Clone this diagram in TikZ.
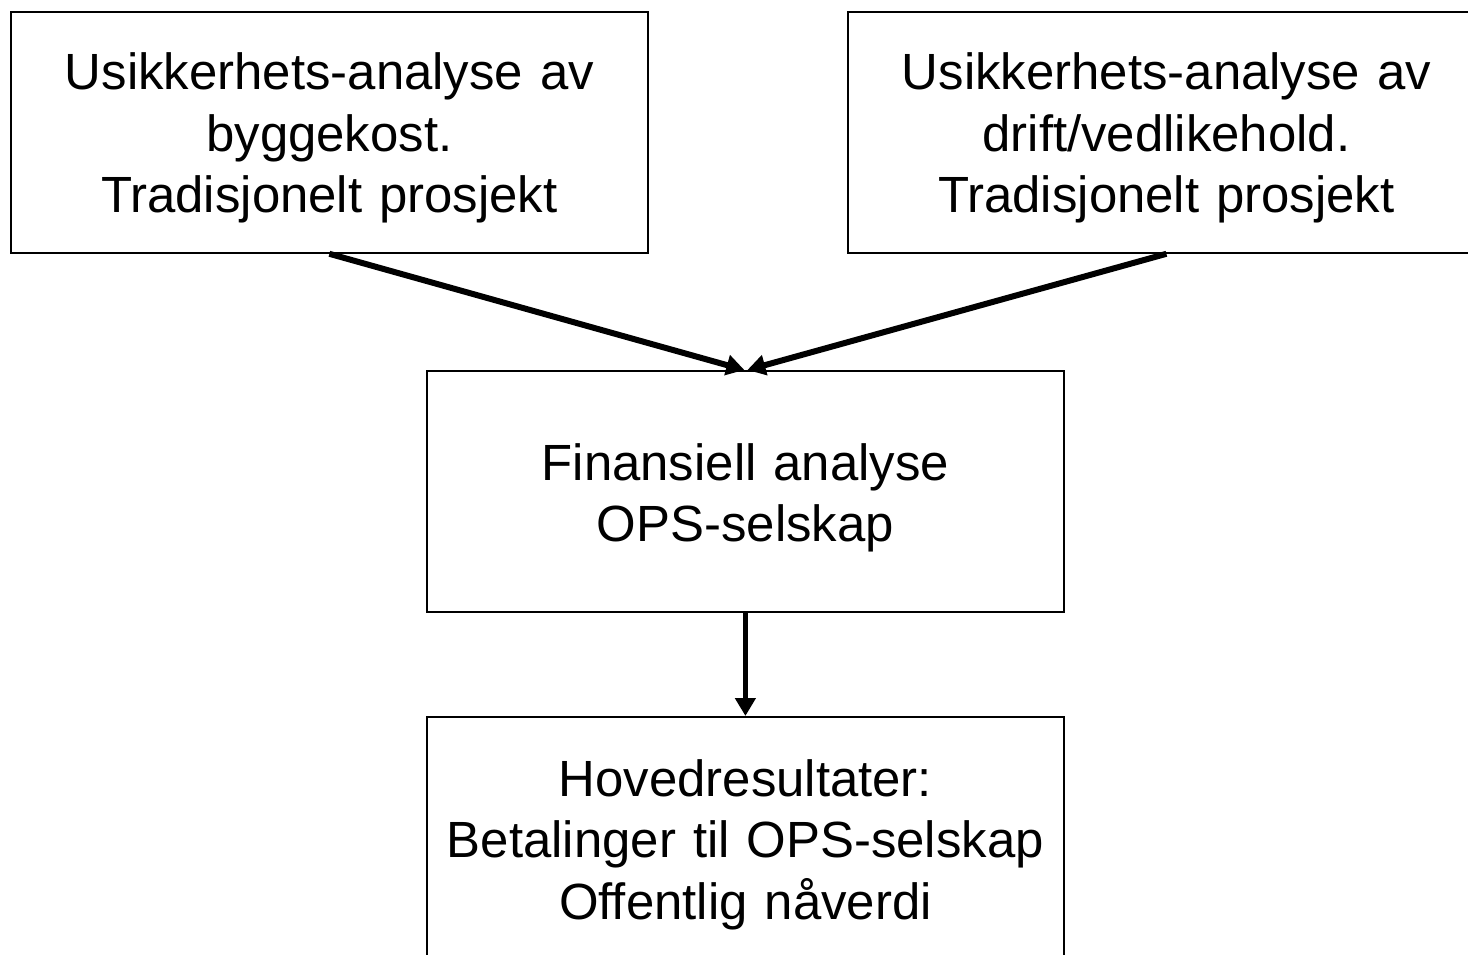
\documentclass[tikz,border=0pt]{standalone}
\usepackage{fontspec}
\setmainfont{Liberation Sans}
\usetikzlibrary{arrows.meta}
\begin{document}
\begin{tikzpicture}[x=1pt,y=-1pt,
  box/.style={draw=black,line width=1.8pt,minimum width=637pt,minimum height=241pt,inner sep=0pt,anchor=north west},
  txt/.style={anchor=base,align=center,text width=630pt,inner sep=0pt,font=\fontsize{50.9}{61.5}\selectfont},
  conn/.style={line width=6pt,-{Triangle[length=18pt,width=20pt]}}]
\useasboundingbox (0,0) rectangle (1468,955);
\begin{scope}
\clip (0,0) rectangle (1468,955);
\node[box] (tl) at (10,11) {};
\node[box] (tr) at (847,11) {};
\node[box] (mid) at (426,370) {};
\node[box] (bot) at (426,716) {};
\node[txt] (tlt) at ([yshift=-79pt]tl.north) {Usikkerhets-analyse av\\byggekost.\\Tradisjonelt prosjekt};
\node[txt] (trt) at ([yshift=-79pt]tr.north) {Usikkerhets-analyse av\\drift/vedlikehold.\\Tradisjonelt prosjekt};
\node[txt] (midt) at ([yshift=-110pt]mid.north) {Finansiell analyse\\OPS-selskap};
\node[txt] (bott) at ([yshift=-80pt]bot.north) {Hovedresultater:\\Betalinger til OPS-selskap\\Offentlig nåverdi};
\end{scope}
\draw[conn] (tl.south) -- ([xshift=-1pt]mid.north);
\draw[conn] (tr.south) -- ([xshift=2pt]mid.north);
\draw[conn,line width=5pt] (mid.south) -- (bot.north);
\end{tikzpicture}
\end{document}
